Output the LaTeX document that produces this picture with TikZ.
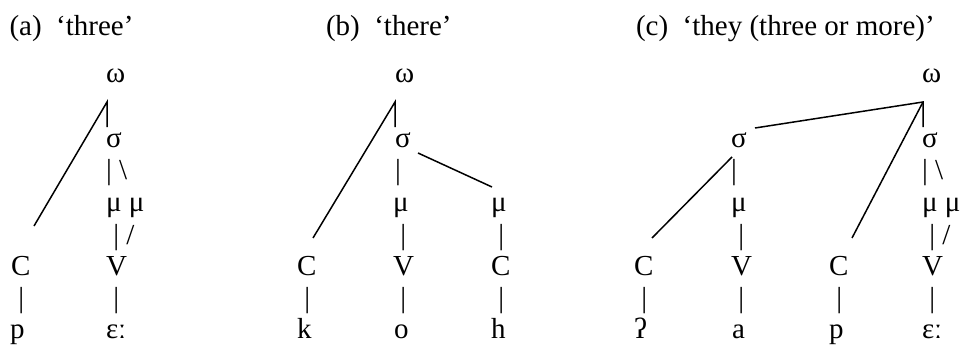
\documentclass[tikz,border=0pt]{standalone}
\usepackage{fontspec}
\setmainfont{Liberation Serif}
\begin{document}
\begin{tikzpicture}[x=1pt,y=-1pt,
  lab/.style={anchor=base west, inner sep=0pt, outer sep=0pt, font=\fontsize{29}{33}\selectfont},
  ln/.style={line width=1.5pt, line cap=butt}]
\useasboundingbox (0,0) rectangle (961,345);
% ---------- (a) ----------
\node[lab] (aT) at (9.5,36) {(a)\hspace{14.5pt}‘three’};
\node[lab] (aW) at (106,82.5) {ω};
\node[lab] (aS) at (106,147) {σ};
\node[lab] (aB1) at (106,179.4) {|\ \textbackslash};
\node[lab] (aM) at (106,211.7) {μ μ};
\node[lab] (aB2) at (106,244) {\ |\ /};
\node[lab] (aC) at (11,275.5) {C};
\node[lab] (aV) at (106,275.5) {V};
\node[lab] (aB3) at (11,307.5) {\ |};
\node[lab] (aB4) at (106,307.5) {\ |};
\node[lab] (ap) at (10,338.5) {p};
\node[lab] (ae) at (106,338.5) {ɛː};
\coordinate (aA) at (107,102);
\coordinate (aAv) at (107,127);
\coordinate (aCe) at (34,226);
\draw[ln] (aCe) -- (aA) -- (aAv);
% ---------- (b) ----------
\node[lab] (bT) at (326,36) {(b)\hspace{14.5pt}‘there’};
\node[lab] (bW) at (395,82.5) {ω};
\node[lab] (bS) at (395,147) {σ};
\node[lab] (bB1) at (395,179.4) {|};
\node[lab] (bM1) at (393,211.7) {μ};
\node[lab] (bM2) at (491,211.7) {μ};
\node[lab] (bB2) at (393,244) {\ |};
\node[lab] (bB3) at (491,244) {\ |};
\node[lab] (bC1) at (297,275.5) {C};
\node[lab] (bV) at (393,275.5) {V};
\node[lab] (bC2) at (491,275.5) {C};
\node[lab] (bB4) at (297,307.5) {\ |};
\node[lab] (bB5) at (393,307.5) {\ |};
\node[lab] (bB6) at (491,307.5) {\ |};
\node[lab] (bk) at (297,338.5) {k};
\node[lab] (bo) at (394,338.5) {o};
\node[lab] (bh) at (491,338.5) {h};
\coordinate (bA) at (395,102);
\coordinate (bAv) at (395,127);
\coordinate (bCe) at (313,238);
\coordinate (bSe) at (418,153);
\coordinate (bMe) at (492,187);
\draw[ln] (bCe) -- (bA) -- (bAv);
\draw[ln] (bSe) -- (bMe);
% ---------- (c) ----------
\node[lab] (cT) at (636,36) {(c)\hspace{14.5pt}‘they (three or more)’};
\node[lab] (cW) at (922,82.5) {ω};
\node[lab] (cS1) at (731,147) {σ};
\node[lab] (cS2) at (922,147) {σ};
\node[lab] (cB1) at (731,179.4) {|};
\node[lab] (cB2) at (922,179.4) {|\ \textbackslash};
\node[lab] (cM1) at (731,211.7) {μ};
\node[lab] (cM2) at (922,211.7) {μ μ};
\node[lab] (cB3) at (731,244) {\ |};
\node[lab] (cB4) at (922,244) {\ |\ /};
\node[lab] (cC1) at (634,275.5) {C};
\node[lab] (cV1) at (731,275.5) {V};
\node[lab] (cC2) at (829,275.5) {C};
\node[lab] (cV2) at (922,275.5) {V};
\node[lab] (cB5) at (634,307.5) {\ |};
\node[lab] (cB6) at (731,307.5) {\ |};
\node[lab] (cB7) at (829,307.5) {\ |};
\node[lab] (cB8) at (922,307.5) {\ |};
\node[lab] (cq) at (634,338.5) {ʔ};
\node[lab] (ca) at (732,338.5) {a};
\node[lab] (cp) at (829,338.5) {p};
\node[lab] (ce) at (922,338.5) {ɛː};
\coordinate (cA) at (923,102);
\coordinate (cAv) at (923,127);
\coordinate (cSe) at (755,128);
\coordinate (cC2e) at (852,238);
\coordinate (cS1e) at (732,157);
\coordinate (cC1e) at (652,238);
\draw[ln] (cSe) -- (cA) -- (cAv);
\draw[ln] (cA) -- (cC2e);
\draw[ln] (cS1e) -- (cC1e);
\end{tikzpicture}
\end{document}
